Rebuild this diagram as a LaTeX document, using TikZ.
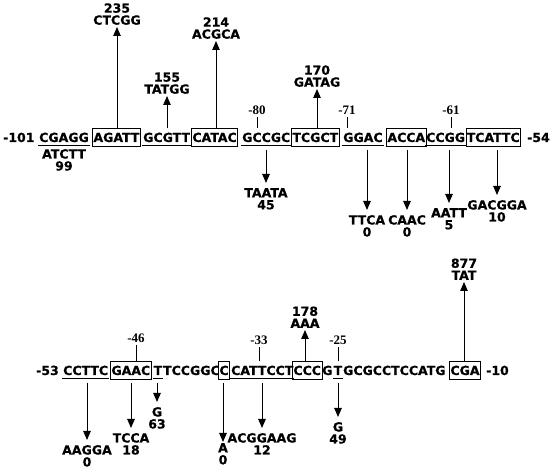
\documentclass[tikz,border=0pt]{standalone}
\usepackage{fontspec}
\newfontfamily\seqfont{DejaVu Sans Bold}[FakeBold=0.6]
\newfontfamily\posfont{Liberation Serif Bold}
\usetikzlibrary{arrows.meta,calc}

\tikzset{
  seq/.style={anchor=base west, font=\seqfont\fontsize{12.5}{12}\selectfont,
    text height=9pt, text depth=0pt, inner ysep=4.5pt, inner xsep=1pt},
  boxed/.style={seq, draw, line width=0.9pt},
  plain/.style={seq, inner xsep=0pt},
  lab/.style={font=\seqfont\fontsize{12.5}{12}\selectfont, align=center, inner sep=2pt},
  uplab/.style={lab, anchor=south},
  dnlab/.style={lab, anchor=north, inner ysep=5pt},
  poslab/.style={font=\posfont\fontsize{13}{13}\selectfont, anchor=base, inner sep=2pt},
  postick/.style={line width=0.8pt},
  uparr/.style={line width=0.9pt, -{Triangle[length=9pt,width=7.5pt]}},
  dnarr/.style={uparr, shorten <=3pt}
}

\begin{document}
\begin{tikzpicture}[x=1pt, y=-1pt]
\useasboundingbox (0,0) rectangle (552,470);

\node[seq] (m101) at (2,142) {-101};
\node[seq] (a1) at (38,142) {CGAGG};
\node[boxed] (a2) at (92,142) {AGATT};
\node[seq] (a3) at (142,142) {GCGTT};
\node[boxed] (a4) at (191,142) {CATAC};
\node[seq] (a5) at (241,142) {GCCGC};
\node[boxed] (a6) at (291,142) {TCGCT};
\node[seq] (a7) at (342,142) {GGAC};
\node[boxed] (a8) at (386,142) {ACCA};
\node[seq] (a9) at (425,142) {CCGG};
\node[boxed, inner xsep=0.3pt] (a10) at (466,142) {TCATTC};
\node[seq] (m54) at (526,142) {-54};

\node[seq] (m53) at (35,375) {-53};
\node[seq] (b1) at (62,375) {CCTTC};
\node[boxed] (b2) at (110,375) {GAAC};
\node[seq, inner xsep=0.5pt] (b3) at (153,375) {T};
\node[plain] (b4) at (b3.base east) {TCCGGC};
\node[boxed] (b5) at (218,375) {C};
\node[seq] (b6) at (230,375) {CATTCCT};
\node[boxed] (b7) at (292,375) {CCC};
\node[seq] (b8) at (321,375) {G};
\node[seq, inner xsep=0.5pt] (b9) at (333,375) {T};
\node[plain] (b10) at (b9.base east) {GCGCCTCCATG};
\node[boxed] (b11) at (449,375) {CGA};
\node[seq] (m10) at (485,375) {-10};

\foreach \n in {a1,a3,a5,a7,a9,b1,b3,b6,b9}
  \draw[line width=0.8pt] ([yshift=1.5pt]\n.south west) -- ([yshift=1.5pt]\n.south east);

\node[lab, anchor=north] (a1l) at (64,147) {ATCTT\\99};

\node[uplab] (u1) at (117,27) {235\\CTCGG};
\node[uplab] (u2) at (167,96) {155\\TATGG};
\node[uplab] (u3) at (216,41) {214\\ACGCA};
\node[uplab] (u4) at (317,89) {170\\GATAG};
\draw[uparr] (u1.south |- a2.north) -- (u1.south);
\draw[uparr] (u2.south |- a3.north) -- (u2.south);
\draw[uparr] (u3.south |- a4.north) -- (u3.south);
\draw[uparr] (u4.south |- a6.north) -- (u4.south);

\node[dnlab] (d1) at (266,183) {TAATA\\45};
\node[dnlab] (d2) at (367,210) {TTCA\\0};
\node[dnlab] (d3) at (407,210) {CAAC\\0};
\node[dnlab] (d4) at (449,203) {AATT\\5};
\node[dnlab] (d5) at (497,195) {GACGGA\\10};
\draw[dnarr] (d1.north |- a5.south) -- (d1.north);
\draw[dnarr] (d2.north |- a7.south) -- (d2.north);
\draw[dnarr] (d3.north |- a8.south) -- (d3.north);
\draw[dnarr] (d4.north |- a9.south) -- (d4.north);
\draw[dnarr] (d5.north |- a10.south) -- (d5.north);

\node[poslab] (p80) at (257,115) {-80};
\node[poslab] (p71) at (347,115) {-71};
\node[poslab] (p61) at (451,115) {-61};
\draw[postick] (p80.south) -- (p80.south |- a5.north);
\draw[postick] (p71.south) -- (p71.south |- a7.north);
\draw[postick] (p61.south) -- (p61.south |- a9.north);

\node[dnlab] (e1) at (87,440) {AAGGA\\0};
\node[dnlab] (e2) at (131,428) {TCCA\\18};
\node[dnlab] (e3) at (157,402) {G\\63};
\node[lab, anchor=north, inner ysep=1pt] (e4) at (223,442) {A\\0};
\node[dnlab] (e5) at (262,428) {ACGGAAG\\12};
\node[dnlab] (e7) at (338,417) {G\\49};
\draw[dnarr] (e1.north |- b1.south) -- (e1.north);
\draw[dnarr] (e2.north |- b2.south) -- (e2.north);
\draw[dnarr] (e3.north |- b3.south) -- (e3.north);
\draw[dnarr] (e4.north |- b5.south) -- (e4.north);
\draw[dnarr] (e5.north |- b6.south) -- (e5.north);
\draw[dnarr] (e7.north |- b9.south) -- (e7.north);

\node[uplab] (e6) at (305,330) {178\\AAA};
\node[uplab] (e8) at (464,282) {877\\TAT};
\draw[uparr] (e6.south |- b7.north) -- (e6.south);
\draw[uparr] (e8.south |- b11.north) -- (e8.south);

\node[poslab] (q46) at (136,343) {-46};
\node[poslab] (q33) at (259,345) {-33};
\node[poslab] (q25) at (338,345) {-25};
\draw[postick] (q46.south) -- (q46.south |- b2.north);
\draw[postick] (q33.south) -- (q33.south |- b6.north);
\draw[postick] (q25.south) -- (q25.south |- b9.north);
\end{tikzpicture}
\end{document}
